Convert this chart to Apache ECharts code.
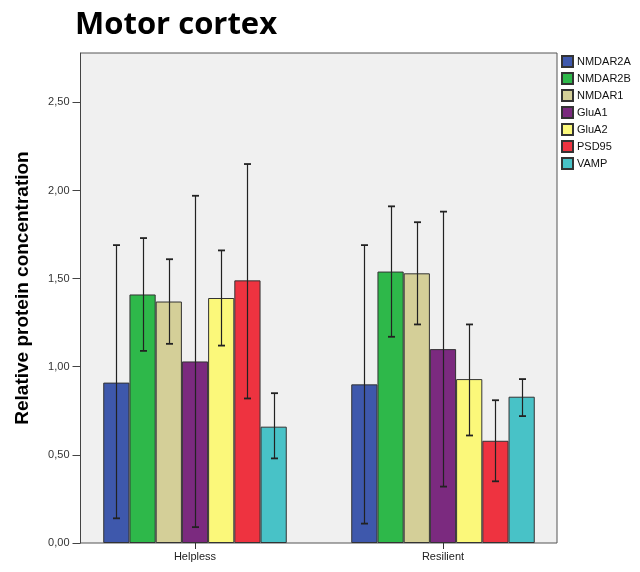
<!DOCTYPE html>
<html>
<head>
<meta charset="utf-8">
<script src="https://cdn.jsdelivr.net/npm/echarts@6/dist/echarts.min.js"></script>
<style>html,body{margin:0;padding:0;background:#fff;}#c{width:640px;height:572px;}</style>
</head>
<body>
<div id="c"></div>
<script>
var categories = ['Helpless', 'Resilient'];
var seriesNames = ['NMDAR2A', 'NMDAR2B', 'NMDAR1', 'GluA1', 'GluA2', 'PSD95', 'VAMP'];
var seriesColors = ['#3e58ac', '#2eb84a', '#d4cf98', '#7b2a7f', '#fbf87a', '#ee3340', '#48c2c7'];
var NMDAR2A = [0.91, 0.90];
var NMDAR2B = [1.41, 1.54];
var NMDAR1 = [1.37, 1.53];
var GluA1 = [1.03, 1.10];
var GluA2 = [1.39, 0.93];
var PSD95 = [1.49, 0.58];
var VAMP = [0.66, 0.83];
var errLow = {
  NMDAR2A: [0.14, 0.11], NMDAR2B: [1.09, 1.17], NMDAR1: [1.13, 1.24], GluA1: [0.09, 0.32],
  GluA2: [1.12, 0.61], PSD95: [0.82, 0.35], VAMP: [0.48, 0.72]
};
var errHigh = {
  NMDAR2A: [1.69, 1.69], NMDAR2B: [1.73, 1.91], NMDAR1: [1.61, 1.82], GluA1: [1.97, 1.88],
  GluA2: [1.66, 1.24], PSD95: [2.15, 0.81], VAMP: [0.85, 0.93]
};
var yTicks = [0, 0.5, 1.0, 1.5, 2.0, 2.5];
var yMax = 2.78;

var values = [NMDAR2A, NMDAR2B, NMDAR1, GluA1, GluA2, PSD95, VAMP];
var catGap = 0.26;

var series = seriesNames.map(function (n, i) {
  return {
    name: n, type: 'bar', xAxisIndex: 0, yAxisIndex: 0,
    data: values[i],
    barGap: '0%', barCategoryGap: (catGap * 100) + '%',
    itemStyle: { color: seriesColors[i], borderColor: '#333', borderWidth: 1 },
    z: 2
  };
});

var errData = [];
seriesNames.forEach(function (n, s) {
  categories.forEach(function (c, k) {
    errData.push([k, s, errLow[n][k], errHigh[n][k]]);
  });
});

series.push({
  type: 'custom', xAxisIndex: 0, yAxisIndex: 0, z: 5,
  encode: { x: 0, y: [2, 3] },
  data: errData,
  renderItem: function (params, api) {
    var cat = api.value(0), s = api.value(1);
    var bandW = api.size([1, 0])[0];
    var groupW = bandW * (1 - catGap);
    var bw = groupW / seriesNames.length;
    var c = api.coord([cat, 0]);
    var x = Math.round(c[0] - groupW / 2 + bw * (s + 0.5)) + 0.5;
    var yl = api.coord([cat, api.value(2)])[1];
    var yh = api.coord([cat, api.value(3)])[1];
    var cap = 3.5;
    var st = { stroke: '#222', lineWidth: 1.2 };
    var stc = { stroke: '#222', lineWidth: 1.8 };
    return {
      type: 'group', children: [
        { type: 'line', shape: { x1: x, y1: yl, x2: x, y2: yh }, style: st },
        { type: 'line', shape: { x1: x - cap, y1: yl, x2: x + cap, y2: yl }, style: stc },
        { type: 'line', shape: { x1: x - cap, y1: yh, x2: x + cap, y2: yh }, style: stc }
      ]
    };
  }
});

var fmt = function (v) { return v.toFixed(2).replace('.', ','); };

var option = {
  animation: false,
  backgroundColor: '#ffffff',
  title: {
    text: 'Motor cortex', left: 75, top: 10, padding: 0,
    textStyle: { fontFamily: 'Open Sans', fontWeight: 'bold', fontSize: 31, color: '#000' }
  },
  legend: {
    orient: 'vertical', left: 561, top: 55, padding: 0,
    itemWidth: 11, itemHeight: 11, itemGap: 4,
    icon: 'rect', selectedMode: false,
    textStyle: { fontFamily: 'Liberation Sans', fontSize: 11, color: '#111', padding: [0, 0, 0, -1] },
    data: seriesNames
  },
  grid: [
    { left: 71, right: 73, top: 53, bottom: 29, show: false },
    { left: 80.5, right: 83, top: 53, bottom: 29, show: true, backgroundColor: '#f0f0f0', borderColor: '#555', borderWidth: 1, z: 0 }
  ],
  xAxis: [
    {
      type: 'category', gridIndex: 0, data: categories, boundaryGap: true,
      axisLine: { show: false },
      axisTick: { show: true, alignWithLabel: true, length: 6, lineStyle: { color: '#333' } },
      axisLabel: { fontFamily: 'Liberation Sans', fontSize: 11, color: '#222', margin: 8 },
      splitLine: { show: false }
    },
    { type: 'value', gridIndex: 1, show: false, min: 0, max: 1 }
  ],
  yAxis: [
    { type: 'value', gridIndex: 0, min: 0, max: yMax, show: false, splitLine: { show: false } },
    {
      type: 'value', gridIndex: 1, min: 0, max: yMax,
      name: 'Relative protein concentration', nameLocation: 'middle', nameGap: 48,
      nameTextStyle: { fontFamily: 'Liberation Sans', fontWeight: 'bold', fontSize: 19, color: '#000', padding: [0, 0, 0, 20] },
      axisLine: { show: true, lineStyle: { color: '#444' } },
      axisTick: { show: true, length: 8, customValues: yTicks, lineStyle: { color: '#444' } },
      axisLabel: { customValues: yTicks, formatter: fmt, fontFamily: 'Liberation Sans', fontSize: 11, color: '#333', margin: 11 },
      splitLine: { show: false }
    }
  ],
  series: series
};

var chart = echarts.init(document.getElementById('c'), null, { renderer: 'canvas' });
chart.setOption(option);
</script>
</body>
</html>
